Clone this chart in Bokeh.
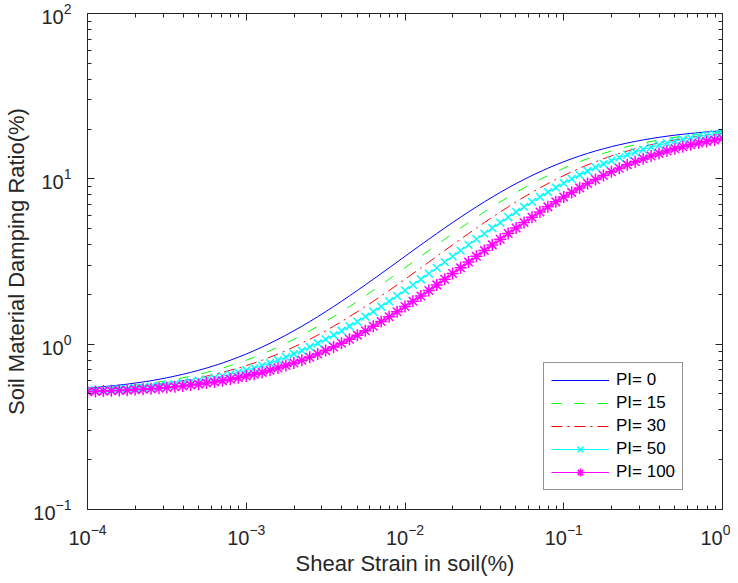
from bokeh.plotting import figure
from bokeh.models import (FixedTicker, LogAxis, Legend, LegendItem, Range1d,
                          CustomJSTickFormatter)
from bokeh.embed import file_html
from bokeh.resources import INLINE

# ---------------- data ----------------
STRAIN = [
    1.000e-4, 1.122e-4, 1.259e-4, 1.413e-4, 1.585e-4, 1.778e-4, 1.995e-4, 2.239e-4, 2.512e-4, 2.818e-4,
    3.162e-4, 3.548e-4, 3.981e-4, 4.467e-4, 5.012e-4, 5.623e-4, 6.310e-4, 7.079e-4, 7.943e-4, 8.913e-4,
    1.000e-3, 1.122e-3, 1.259e-3, 1.413e-3, 1.585e-3, 1.778e-3, 1.995e-3, 2.239e-3, 2.512e-3, 2.818e-3,
    3.162e-3, 3.548e-3, 3.981e-3, 4.467e-3, 5.012e-3, 5.623e-3, 6.310e-3, 7.079e-3, 7.943e-3, 8.913e-3,
    1.000e-2, 1.122e-2, 1.259e-2, 1.413e-2, 1.585e-2, 1.778e-2, 1.995e-2, 2.239e-2, 2.512e-2, 2.818e-2,
    3.162e-2, 3.548e-2, 3.981e-2, 4.467e-2, 5.012e-2, 5.623e-2, 6.310e-2, 7.079e-2, 7.943e-2, 8.913e-2,
    1.000e-1, 1.122e-1, 1.259e-1, 1.413e-1, 1.585e-1, 1.778e-1, 1.995e-1, 2.239e-1, 2.512e-1, 2.818e-1,
    3.162e-1, 3.548e-1, 3.981e-1, 4.467e-1, 5.012e-1, 5.623e-1, 6.310e-1, 7.079e-1, 7.943e-1, 8.913e-1,
    1.000,
]

PI0 = [
    0.542, 0.547, 0.553, 0.559, 0.566, 0.573, 0.582, 0.591, 0.601, 0.613,
    0.626, 0.641, 0.657, 0.675, 0.695, 0.717, 0.742, 0.769, 0.800, 0.834,
    0.872, 0.914, 0.961, 1.013, 1.070, 1.134, 1.205, 1.283, 1.370, 1.466,
    1.572, 1.688, 1.817, 1.958, 2.113, 2.283, 2.470, 2.673, 2.895, 3.136,
    3.398, 3.681, 3.986, 4.314, 4.665, 5.040, 5.438, 5.860, 6.304, 6.769,
    7.255, 7.759, 8.280, 8.815, 9.360, 9.914, 10.47, 11.03, 11.59, 12.15,
    12.69, 13.23, 13.75, 14.25, 14.74, 15.20, 15.65, 16.07, 16.46, 16.84,
    17.19, 17.52, 17.82, 18.11, 18.37, 18.61, 18.83, 19.03, 19.22, 19.39,
    19.54,
]

PI15 = [
    0.534, 0.538, 0.542, 0.547, 0.553, 0.559, 0.566, 0.573, 0.582, 0.591,
    0.601, 0.613, 0.626, 0.641, 0.657, 0.675, 0.695, 0.717, 0.742, 0.769,
    0.800, 0.834, 0.872, 0.914, 0.961, 1.013, 1.070, 1.134, 1.205, 1.283,
    1.370, 1.466, 1.572, 1.688, 1.817, 1.958, 2.113, 2.283, 2.470, 2.673,
    2.895, 3.136, 3.398, 3.681, 3.986, 4.314, 4.665, 5.040, 5.438, 5.860,
    6.304, 6.769, 7.255, 7.759, 8.280, 8.815, 9.360, 9.914, 10.47, 11.03,
    11.59, 12.15, 12.69, 13.23, 13.75, 14.25, 14.74, 15.20, 15.65, 16.07,
    16.46, 16.84, 17.19, 17.52, 17.82, 18.11, 18.37, 18.61, 18.83, 19.03,
    19.22,
]

PI30 = [
    0.527, 0.531, 0.534, 0.538, 0.542, 0.547, 0.553, 0.559, 0.566, 0.573,
    0.582, 0.591, 0.601, 0.613, 0.626, 0.641, 0.657, 0.675, 0.695, 0.717,
    0.742, 0.769, 0.800, 0.834, 0.872, 0.914, 0.961, 1.013, 1.070, 1.134,
    1.205, 1.283, 1.370, 1.466, 1.572, 1.688, 1.817, 1.958, 2.113, 2.283,
    2.470, 2.673, 2.895, 3.136, 3.398, 3.681, 3.986, 4.314, 4.665, 5.040,
    5.438, 5.860, 6.304, 6.769, 7.255, 7.759, 8.280, 8.815, 9.360, 9.914,
    10.47, 11.03, 11.59, 12.15, 12.69, 13.23, 13.75, 14.25, 14.74, 15.20,
    15.65, 16.07, 16.46, 16.84, 17.19, 17.52, 17.82, 18.11, 18.37, 18.61,
    18.83,
]

PI50 = [
    0.522, 0.525, 0.527, 0.531, 0.534, 0.538, 0.542, 0.547, 0.553, 0.559,
    0.566, 0.573, 0.582, 0.591, 0.601, 0.613, 0.626, 0.641, 0.657, 0.675,
    0.695, 0.717, 0.742, 0.769, 0.800, 0.834, 0.872, 0.914, 0.961, 1.013,
    1.070, 1.134, 1.205, 1.283, 1.370, 1.466, 1.572, 1.688, 1.817, 1.958,
    2.113, 2.283, 2.470, 2.673, 2.895, 3.136, 3.398, 3.681, 3.986, 4.314,
    4.665, 5.040, 5.438, 5.860, 6.304, 6.769, 7.255, 7.770, 8.304, 8.854,
    9.415, 9.986, 10.56, 11.15, 11.73, 12.30, 12.88, 13.44, 13.99, 14.52,
    15.04, 15.53, 16.01, 16.46, 16.90, 17.31, 17.69, 18.05, 18.39, 18.71,
    19.01,
]

PI100 = [
    0.516, 0.518, 0.520, 0.522, 0.525, 0.527, 0.531, 0.534, 0.538, 0.542,
    0.547, 0.553, 0.559, 0.566, 0.573, 0.582, 0.591, 0.601, 0.613, 0.626,
    0.641, 0.657, 0.675, 0.695, 0.717, 0.742, 0.769, 0.800, 0.834, 0.872,
    0.914, 0.961, 1.013, 1.070, 1.134, 1.205, 1.283, 1.370, 1.466, 1.572,
    1.688, 1.817, 1.958, 2.113, 2.283, 2.470, 2.673, 2.895, 3.136, 3.398,
    3.681, 3.986, 4.314, 4.665, 5.040, 5.438, 5.860, 6.304, 6.769, 7.255,
    7.759, 8.280, 8.815, 9.360, 9.914, 10.47, 11.03, 11.59, 12.15, 12.69,
    13.23, 13.75, 14.25, 14.74, 15.20, 15.65, 16.07, 16.46, 16.84, 17.19,
    17.52,
]

LABELS = ["PI= 0", "PI= 15", "PI= 30", "PI= 50", "PI= 100"]

X_TICKS = [1e-4, 1e-3, 1e-2, 1e-1, 1e0]
Y_TICKS = [1e-1, 1e0, 1e1, 1e2]
MANTISSAS = [2, 3, 4, 5, 6, 7, 8, 9]
X_MINOR = [m * t for t in X_TICKS[:-1] for m in MANTISSAS]
Y_MINOR = [m * t for t in Y_TICKS[:-1] for m in MANTISSAS]

# ---------------- styling ----------------
FONT = "Liberation Sans"
AX = "#262626"

p = figure(x_axis_type="log", y_axis_type="log",
           x_range=Range1d(1e-4, 1.0), y_range=Range1d(0.1, 100.0),
           frame_width=635, frame_height=496,
           min_border_left=87, min_border_right=8, min_border_top=13, min_border_bottom=66,
           output_backend="svg", toolbar_location=None)
p.background_fill_color = "white"
p.border_fill_color = "white"
p.grid.visible = False
p.outline_line_color = AX

def style_axis(ax, ticker, labels=True):
    ax.ticker = ticker
    ax.axis_line_color = AX
    ax.major_tick_line_color = AX
    ax.minor_tick_line_color = AX
    ax.major_tick_in = 7
    ax.major_tick_out = 0
    ax.minor_tick_in = 4
    ax.minor_tick_out = 0
    ax.major_label_text_font = FONT
    ax.major_label_text_font_size = "20px"
    ax.major_label_text_color = AX
    ax.axis_label_text_font = FONT
    ax.axis_label_text_font_size = "22px"
    ax.axis_label_text_font_style = "normal"
    ax.axis_label_text_color = AX
    if not labels:
        ax.formatter = CustomJSTickFormatter(code="return ''")
        ax.major_label_standoff = 0

xt = FixedTicker(ticks=X_TICKS, minor_ticks=X_MINOR)
yt = FixedTicker(ticks=Y_TICKS, minor_ticks=Y_MINOR)
style_axis(p.xaxis[0], xt)
style_axis(p.yaxis[0], yt)
p.xaxis[0].major_label_standoff = 14
p.yaxis[0].major_label_standoff = 16
p.xaxis[0].axis_label = "Shear Strain in soil(%)"
p.yaxis[0].axis_label = "Soil Material Damping Ratio(%)"
p.xaxis[0].axis_label_standoff = 3
p.yaxis[0].axis_label_standoff = 1

top = LogAxis()
right = LogAxis()
style_axis(top, FixedTicker(ticks=X_TICKS, minor_ticks=X_MINOR), labels=False)
style_axis(right, FixedTicker(ticks=Y_TICKS, minor_ticks=Y_MINOR), labels=False)
p.add_layout(top, "above")
p.add_layout(right, "right")

r0 = p.line(STRAIN, PI0, line_color="#0000FF", line_width=1)
r1 = p.line(STRAIN, PI15, line_color="#00FF00", line_width=1, line_dash="10 13")
r2 = p.line(STRAIN, PI30, line_color="#FF0000", line_width=1, line_dash="11 5 2 5")
r3 = p.line(STRAIN, PI50, line_color="#00FFFF", line_width=1)
r3m = p.scatter(STRAIN, PI50, marker="x", size=11, line_color="#00FFFF", line_width=1.5)
r4 = p.line(STRAIN, PI100, line_color="#FF00FF", line_width=1)
r4m = p.scatter(STRAIN, PI100, marker="asterisk", size=12, line_color="#FF00FF", line_width=1.5)

legend = Legend(items=[
    LegendItem(label=LABELS[0], renderers=[r0]),
    LegendItem(label=LABELS[1], renderers=[r1]),
    LegendItem(label=LABELS[2], renderers=[r2]),
    LegendItem(label=LABELS[3], renderers=[r3, r3m]),
    LegendItem(label=LABELS[4], renderers=[r4, r4m]),
], location=(456, 19))
legend.label_text_font = FONT
legend.label_text_font_size = "17px"
legend.label_text_color = "black"
legend.border_line_color = AX
legend.border_line_width = 1
legend.background_fill_color = "white"
legend.background_fill_alpha = 1.0
legend.glyph_width = 58
legend.glyph_height = 20
legend.label_height = 20
legend.spacing = 3
legend.padding = 7
legend.label_standoff = 7
legend.margin = 0
p.add_layout(legend)

open("out.html", "w").write(file_html(p, INLINE))
